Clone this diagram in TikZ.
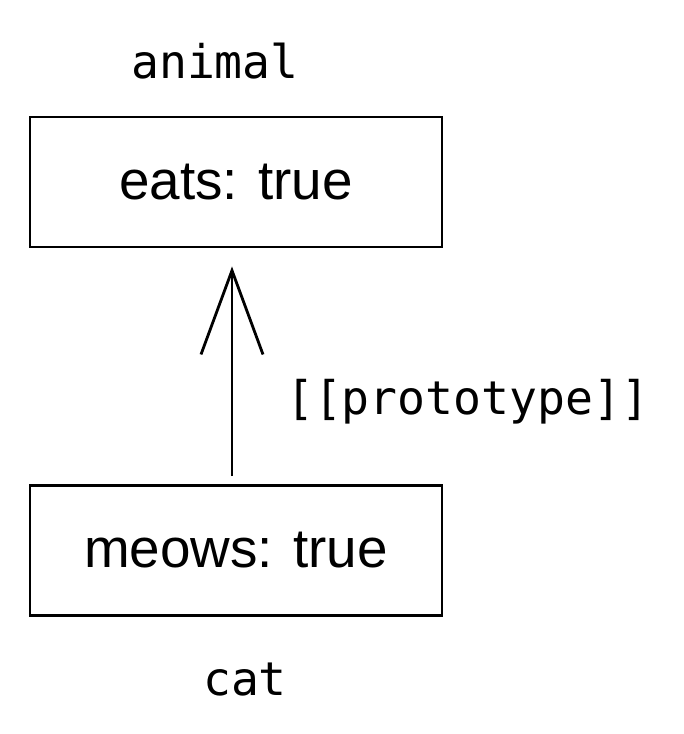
\documentclass[tikz,border=0pt]{standalone}
\usepackage{fontspec}
\setmonofont{DejaVu Sans Mono}
\newfontfamily\handfont{Liberation Sans}
\usetikzlibrary{arrows.meta}

\begin{document}
\begin{tikzpicture}[
	objbox/.style={draw,line width=2pt,minimum width=10.3cm,minimum height=3.25cm,inner sep=0pt,font=\handfont\fontsize{39}{41}\selectfont},
	objname/.style={anchor=base,font=\ttfamily\fontsize{33}{37}\selectfont},
	protoarrow/.style={line width=2pt,-{Straight Barb[length=2.1cm,width=1.55cm,line width=2pt]}}]
	\useasboundingbox (0,0) rectangle (17.075,-18.35);
	\node[objbox] (animalbox) at (5.9,-4.55) {eats: true};
	\node[objbox] (catbox) at (5.9,-13.76) {meows: true};
	\node[objname] (animal) at (5.375,-1.95) {animal};
	\node[objname] (cat) at (6.125,-17.375) {cat};
	\draw[protoarrow,shorten <=0.2cm,shorten >=0.45cm] ([xshift=-0.1cm]catbox.north) -- ([xshift=-0.1cm]animalbox.south) node[objname,midway,right=1.2cm,yshift=-0.88cm] (proto) {[[prototype]]};
\end{tikzpicture}
\end{document}
